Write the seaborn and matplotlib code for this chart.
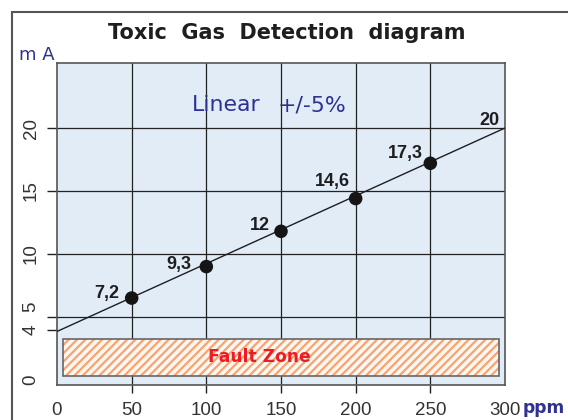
import matplotlib
matplotlib.use("Agg")
import matplotlib.pyplot as plt
import matplotlib.transforms as mtransforms
import seaborn as sns
import pandas as pd
from matplotlib.patches import Rectangle

# ---- data ----
ppm = [50, 100, 150, 200, 250]
ma = [6.5, 9.0, 11.8, 14.4, 17.2]
point_labels = ["7,2", "9,3", "12", "14,6", "17,3"]
line_ppm = [0, 300]
line_ma = [3.85, 20]
end_label = "20"
x_ticks = [0, 50, 100, 150, 200, 250, 300]
y_ticks = [0, 4, 5, 10, 15, 20]
fault_x = [4, 296]
fault_y = [0.32, 3.25]
title = "Toxic  Gas  Detection  diagram"

# ---- styling ----
sns.set_theme(style="ticks")
plt.rcParams["font.family"] = ["DejaVu Sans"]
plt.rcParams["hatch.linewidth"] = 1.6

W, H = 568, 420
fig = plt.figure(figsize=(W / 100, H / 100), dpi=100)
fig.patch.set_facecolor("white")
ax = fig.add_axes([57 / W, 1 - 385 / H, (505 - 57) / W, (385 - 63) / H])
ax.set_facecolor("#e2ecf7")

pts = pd.DataFrame({"ppm": ppm, "mA": ma})
lin = pd.DataFrame({"ppm": line_ppm, "mA": line_ma})

sns.lineplot(data=lin, x="ppm", y="mA", ax=ax, color="#1e1e1e", lw=1.0, zorder=3)
sns.scatterplot(data=pts, x="ppm", y="mA", ax=ax, s=95, color="#151515",
                edgecolor="none", zorder=4)

ax.set_xlim(0, 300)
ax.set_ylim(-0.4, 25.16)
ax.set_xlabel("")
ax.set_ylabel("")

ax.set_xticks(x_ticks)
ax.set_xticklabels([str(v) for v in x_ticks])
ax.set_yticks(y_ticks)
ax.set_yticklabels([str(v) for v in y_ticks])
ax.tick_params(axis="x", length=6, width=1, color="#222222", pad=6,
               labelsize=13.5, labelcolor="#333333")
ax.tick_params(axis="y", length=7.5, width=1, color="#222222", pad=5,
               labelsize=13.5, labelcolor="#333333", labelrotation=90)
for lbl in ax.get_xticklabels() + ax.get_yticklabels():
    lbl.set_fontfamily("Liberation Sans")
for lbl in ax.get_yticklabels():
    lbl.set_va("center")

ax.grid(True, color="#222222", lw=0.9)
for i, v in enumerate(x_ticks):
    if v in (0, 300):
        ax.xaxis.get_gridlines()[i].set_visible(False)
        ax.xaxis.get_major_ticks()[i].tick1line.set_visible(False)
for i, v in enumerate(y_ticks):
    if v in (0, 4):
        ax.yaxis.get_gridlines()[i].set_visible(False)
    if v == 0:
        ax.yaxis.get_major_ticks()[i].tick1line.set_visible(False)
ax.set_axisbelow(True)

for s in ax.spines.values():
    s.set_color("#555555")
    s.set_linewidth(1.2)

# fault zone
ax.add_patch(Rectangle((fault_x[0], fault_y[0]), fault_x[1] - fault_x[0],
                       fault_y[1] - fault_y[0], facecolor="#fdf7f2",
                       edgecolor="#f7a472", hatch="////", lw=0, zorder=2))
ax.add_patch(Rectangle((fault_x[0], fault_y[0]), fault_x[1] - fault_x[0],
                       fault_y[1] - fault_y[0], fill=False,
                       edgecolor="#666666", lw=1.2, zorder=2.5))
ax.text(sum(fault_x) / 2 - 14.4, sum(fault_y) / 2, "Fault Zone", color="#ed1c24",
        fontsize=12.3, fontweight="bold", ha="center", va="center", zorder=5)

# point labels
lab_font = ["Liberation Sans Narrow", "Liberation Sans"]
offsets = [(-25, 5), (-27, 2), (-21, 6), (-23, 17), (-25, 10)]
for x, y, t, (dx, dy) in zip(ppm, ma, point_labels, offsets):
    ax.annotate(t, (x, y), xytext=(dx, dy), textcoords="offset pixels",
                ha="center", va="center", fontsize=13, fontweight="bold",
                family=lab_font, color="#1e1e1e", zorder=6)
ax.annotate(end_label, (line_ppm[-1], line_ma[-1]), xytext=(-16, 8),
            textcoords="offset pixels", ha="center", va="center", fontsize=13,
            fontweight="bold", family=lab_font, color="#1e1e1e", zorder=6)

# Linear +/-5%
ax.text(90.4, 21.8, "Linear", color="#2e3192", fontsize=15.8, ha="left", va="center")
ax.text(148, 21.8, "+/-5%", color="#2e3192", fontsize=15.8, ha="left", va="center")

# figure texts
fig.text(287 / W, 1 - 33 / H, title, fontsize=15, fontweight="bold",
         color="#1e1e1e", ha="center", va="center")
fig.text(19 / W, 1 - 55 / H, "m A", fontsize=13, color="#2e3192",
         ha="left", va="center")
fig.text(523 / W, 1 - 408 / H, "ppm", fontsize=12.3, fontweight="bold",
         color="#2e3192", ha="left", va="center")

# outer frame (left and top edges visible)
fig.add_artist(Rectangle((12 / W, -0.2), 1.5, 1 - 12 / H + 0.2, fill=False,
                         edgecolor="#555555", lw=1.5, transform=fig.transFigure))

# lift the "5" tick label clear of the "4"
for v, tick in zip(y_ticks, ax.yaxis.get_major_ticks()):
    if v == 5:
        tick.label1.set_transform(tick.label1.get_transform() +
                                  mtransforms.ScaledTranslation(0, 0.10, fig.dpi_scale_trans))

fig.savefig("out.png", dpi=100)
